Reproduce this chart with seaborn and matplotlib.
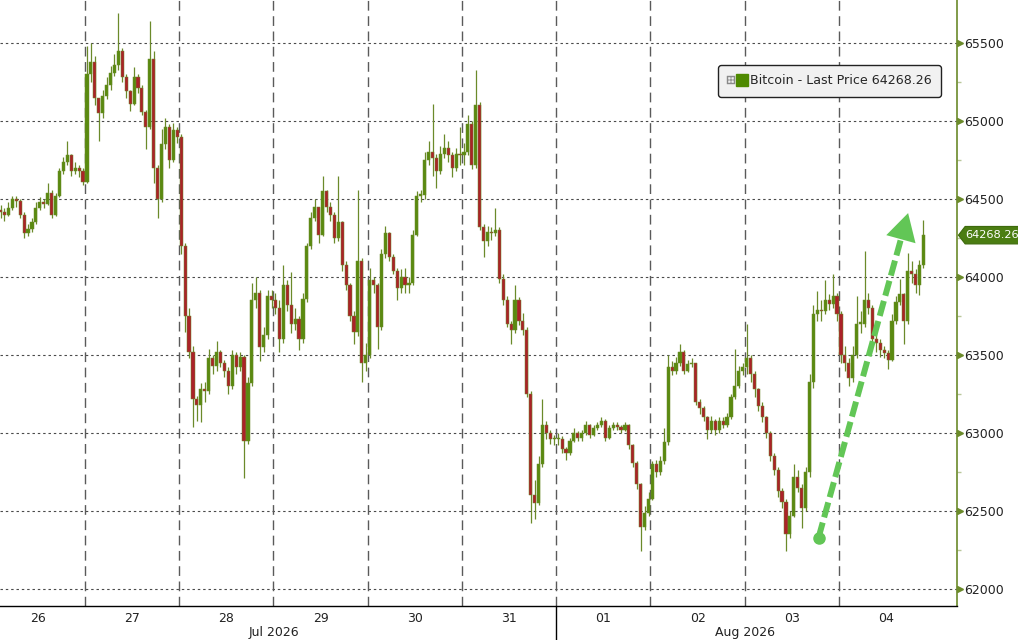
import numpy as np
import pandas as pd
import matplotlib
matplotlib.use("Agg")
import matplotlib.pyplot as plt
import matplotlib.transforms as mtransforms
from matplotlib.lines import Line2D
from matplotlib.patches import Polygon
from matplotlib.legend_handler import HandlerTuple
import seaborn as sns

sns.set_style("white")
plt.rcParams['font.family'] = ['DejaVu Sans']

# hourly candles, Bitcoin last price (open = previous close)
first_open = 64430
start_time = "2026-07-26 02:00"

close_26 = [64420, 64400, 64440, 64500, 64490, 64400, 64280, 64310, 64350, 64440, 64480,
            64470, 64540, 64400, 64520, 64680, 64740, 64780, 64680, 64700, 64680, 64610]
high_26 = [64460, 64440, 64480, 64520, 64520, 64500, 64420, 64340, 64380, 64480, 64510,
           64500, 64600, 64560, 64540, 64700, 64770, 64870, 64790, 64740, 64720, 64700]
low_26 = [64380, 64360, 64390, 64430, 64450, 64380, 64250, 64260, 64290, 64340, 64430,
          64440, 64460, 64380, 64390, 64510, 64660, 64720, 64650, 64660, 64640, 64590]

close_27 = [65300, 65380, 65150, 65050, 65160, 65230, 65310, 65360, 65450, 65280, 65190, 65110,
            65280, 65210, 65060, 64960, 65400, 64700, 64500, 64850, 64960, 64750, 64940, 64900]
high_27 = [65480, 65500, 65420, 65150, 65200, 65280, 65350, 65430, 65690, 65470, 65300, 65200,
           65345, 65300, 65230, 65070, 65640, 65450, 64720, 64950, 65020, 64980, 64990, 64960]
low_27 = [64600, 65250, 65100, 64870, 65020, 65140, 65200, 65290, 65330, 65250, 65150, 65065,
          65100, 65180, 65040, 64820, 64950, 64600, 64380, 64480, 64820, 64700, 64740, 64860]

close_28 = [64200, 63750, 63520, 63220, 63180, 63280, 63270, 63480, 63430, 63520, 63450, 63400,
            63300, 63500, 63420, 63490, 62950, 63320, 63850, 63900, 63550, 63630, 63880, 63850]
high_28 = [64920, 64220, 63800, 63560, 63240, 63320, 63330, 63540, 63500, 63590, 63530, 63470,
           63420, 63530, 63520, 63520, 63500, 63360, 63960, 64000, 63920, 63680, 63920, 63920]
low_28 = [64150, 63650, 63480, 63040, 63080, 63070, 63200, 63250, 63380, 63400, 63420, 63360,
          63250, 63280, 63380, 63400, 62710, 62930, 63300, 63800, 63460, 63520, 63600, 63800]

close_29 = [63800, 63600, 63950, 63820, 63700, 63730, 63600, 63860, 64200, 64380, 64450, 64270,
            64550, 64450, 64400, 64250, 64350, 64080, 63950, 63750, 63650, 64100, 63450, 63500]
high_29 = [63900, 63850, 64080, 63980, 64030, 63800, 63750, 63900, 64220, 64420, 64500, 64450,
           64650, 64560, 64480, 64420, 64650, 64360, 64100, 63960, 63780, 64560, 64120, 63580]
low_29 = [63760, 63520, 63580, 63780, 63640, 63660, 63530, 63580, 63840, 64180, 64360, 64220,
          64260, 64420, 64360, 64220, 64230, 64040, 63920, 63720, 63570, 63620, 63330, 63400]

close_30 = [63980, 63950, 63680, 64150, 64280, 64130, 64040, 63930, 64000, 63950, 63960, 64270,
            64520, 64525, 64750, 64800, 64760, 64680, 64790, 64830, 64780, 64700, 64790, 64780]
high_30 = [64060, 64000, 63960, 64180, 64330, 64290, 64150, 64060, 64050, 64060, 64000, 64300,
           64550, 64560, 64800, 64870, 65110, 64790, 64840, 64920, 64870, 64800, 64830, 64960]
low_30 = [63480, 63900, 63540, 63660, 64120, 64100, 64020, 63850, 63900, 63900, 63900, 63950,
          64260, 64480, 64500, 64720, 64650, 64570, 64660, 64760, 64740, 64640, 64680, 64720]

close_31 = [64800, 64980, 64720, 65100, 64320, 64230, 64290, 64280, 64300, 63990, 63850, 63700,
            63660, 63850, 63720, 63660, 63250, 62600, 62550, 62800, 63050, 63000, 62960, 62960]
high_31 = [64860, 65040, 65000, 65330, 65120, 64340, 64330, 64320, 64440, 64320, 64020, 63880,
           63720, 63950, 63870, 63770, 63680, 63270, 62700, 62850, 63220, 63080, 63020, 62990]
low_31 = [64720, 64780, 64690, 64700, 64300, 64130, 64200, 64240, 64260, 63960, 63820, 63680,
          63570, 63640, 63690, 63630, 63230, 62420, 62450, 62540, 62780, 62960, 62930, 62920]

close_01 = [62960, 62900, 62870, 62950, 63000, 62970, 63000, 63050, 62990, 63030, 63050, 63080,
            62970, 63030, 63050, 63040, 63020, 63050, 62920, 62810, 62670, 62400, 62490, 62580]
high_01 = [63000, 62980, 62910, 62970, 63030, 63010, 63020, 63080, 63060, 63050, 63070, 63100,
           63090, 63050, 63070, 63070, 63050, 63070, 63060, 62930, 62820, 62680, 62530, 62620]
low_01 = [62920, 62870, 62830, 62860, 62940, 62950, 62950, 62990, 62970, 62980, 63020, 63040,
          62950, 62960, 63020, 63020, 63000, 63010, 62900, 62780, 62640, 62245, 62380, 62470]

close_02 = [62800, 62750, 62820, 62940, 63420, 63400, 63450, 63520, 63400, 63440, 63450, 63200,
            63160, 63100, 63020, 63080, 63020, 63080, 63050, 63100, 63230, 63300, 63400, 63420]
high_02 = [62820, 62830, 62850, 63030, 63500, 63460, 63490, 63570, 63530, 63470, 63480, 63450,
           63220, 63170, 63110, 63110, 63090, 63100, 63100, 63130, 63250, 63540, 63430, 63450]
low_02 = [62570, 62720, 62730, 62800, 62920, 63370, 63380, 63430, 63380, 63390, 63420, 63180,
          63120, 63080, 62960, 63000, 62990, 63000, 63030, 63040, 63090, 63220, 63290, 63370]

close_03 = [63480, 63380, 63280, 63170, 63100, 63000, 62850, 62760, 62630, 62560, 62350, 62470,
            62720, 62650, 62520, 62750, 63330, 63760, 63790, 63780, 63850, 63830, 63880, 63760]
high_03 = [63700, 63500, 63400, 63290, 63200, 63110, 63010, 62870, 62780, 62650, 62580, 62500,
           62800, 62760, 62670, 62780, 63380, 63820, 63910, 63850, 63980, 63890, 64020, 63900]
low_03 = [63380, 63330, 63230, 63140, 63070, 62970, 62820, 62730, 62590, 62520, 62245, 62330,
          62460, 62620, 62390, 62500, 62720, 63290, 63720, 63720, 63760, 63790, 63800, 63720]

close_04 = [63500, 63450, 63350, 63500, 63700, 63700, 63850, 63800, 63600, 63580, 63530,
            63510, 63470, 63720, 63840, 63890, 63720, 64040, 64020, 63950, 64080, 64268.26]
high_04 = [63780, 63560, 63480, 63560, 63880, 63780, 64170, 63900, 63820, 63640, 63600,
           63560, 63530, 63760, 63880, 63985, 63900, 64157, 64100, 64050, 64110, 64365]
low_04 = [63450, 63400, 63300, 63330, 63480, 63640, 63680, 63760, 63580, 63520, 63490,
          63480, 63409, 63460, 63700, 63820, 63569, 63700, 63960, 63900, 63887, 64060]

day_labels = ['26', '27', '28', '29', '30', '31', '01', '02', '03', '04']
month_labels = ['Jul 2026', 'Aug 2026']
month_first_day = [0, 6]          # index into day_labels
y_ticks = [62000, 62500, 63000, 63500, 64000, 64500, 65000, 65500]
series_name = "Bitcoin - Last Price"

# hand-drawn arrow (hours since Jul 26 00:00, price)
arrow_start = (210.8, 62330)
arrow_tip = (233.6, 64410)

GREEN = "#5a8a10"
RED = "#ab2229"
OLIVE = "#6b8a2a"
LGREEN = "#62c656"

closes = (close_26 + close_27 + close_28 + close_29 + close_30 + close_31
          + close_01 + close_02 + close_03 + close_04)
highs = (high_26 + high_27 + high_28 + high_29 + high_30 + high_31
         + high_01 + high_02 + high_03 + high_04)
lows = (low_26 + low_27 + low_28 + low_29 + low_30 + low_31
        + low_01 + low_02 + low_03 + low_04)

times = pd.date_range(start_time, periods=len(closes), freq="h")
df = pd.DataFrame({"time": times, "close": closes, "high": highs, "low": lows})
df["t"] = (df["time"] - pd.Timestamp("2026-07-26")) / pd.Timedelta(hours=1) + 0.5
df["open"] = df["close"].shift(1).fillna(first_open)
df["high"] = df[["high", "open", "close"]].max(axis=1)
df["low"] = df[["low", "open", "close"]].min(axis=1)
df["up"] = df["close"] >= df["open"]
last = df["close"].iloc[-1]

fig = plt.figure(figsize=(10.18, 6.4), dpi=100)
ax = fig.add_axes([0, 34 / 640, 957 / 1018, 606 / 640])

# candles
body_col = np.where(df["up"], GREEN, RED)
ax.vlines(df["t"], df["low"], df["high"], colors=OLIVE, linewidth=0.9, zorder=3)
ax.bar(df["t"], (df["close"] - df["open"]).abs().clip(lower=10),
       bottom=np.minimum(df["open"], df["close"]), width=0.8,
       color=body_col, edgecolor=OLIVE, linewidth=0.35, zorder=4)

# axes limits
ax.set_xlim(2.36, 246.05)
ax.set_ylim(61891, 65776)

# grid
for yv in y_ticks:
    ax.axhline(yv, color="#4a4a4a", lw=0.8, ls=(0, (2.2, 2.6)), zorder=1)
for k in range(1, len(day_labels)):
    ax.axvline(24 * k, color="#5a5a5a", lw=1.0, ls=(0, (7, 4)), zorder=1)

# x axis: day labels and months
ax.set_xticks([24 * k + 12 for k in range(len(day_labels))])
ax.set_xticklabels(day_labels)
ax.tick_params(axis="x", length=0, pad=4, labelsize=9, labelcolor="#222222")
trans = mtransforms.blended_transform_factory(ax.transData, ax.transAxes)
bounds = [24 * d for d in month_first_day] + [24 * len(day_labels)]
for i, m in enumerate(month_labels):
    ax.text((bounds[i] + bounds[i + 1]) / 2, -0.043, m, transform=trans,
            ha="center", va="center", fontsize=9, color="#222222")
ax.plot([bounds[1], bounds[1]], [0, -0.06], transform=trans, color="black",
        lw=1, clip_on=False)

# y axis on the right
ax.yaxis.tick_right()
ax.set_yticks(y_ticks)
ax.set_yticklabels([str(v) for v in y_ticks])
ax.set_yticks([v + 250 for v in y_ticks[:-1]], minor=True)
ax.tick_params(axis="y", which="major", length=0, pad=5, labelsize=9,
               labelcolor="#222222")
ax.tick_params(axis="y", which="minor", length=3, color="#b9c79a", width=1)
ytrans = mtransforms.blended_transform_factory(ax.transAxes, ax.transData)
ax.plot([1.0035] * len(y_ticks), y_ticks, ls="none", marker=">", ms=4.5,
        color=OLIVE, transform=ytrans, clip_on=False)

for s in ["left", "top"]:
    ax.spines[s].set_visible(False)
ax.spines["right"].set_color(OLIVE)
ax.spines["right"].set_linewidth(1.2)
ax.spines["bottom"].set_color("black")
ax.spines["bottom"].set_linewidth(1.0)

# last price tag
h = 56
tag = Polygon([(1.0015, last), (1.0085, last + h), (1.08, last + h),
               (1.08, last - h), (1.0085, last - h)], closed=True,
              facecolor="#4b7d12", edgecolor="#3d6a0c", lw=0.8,
              transform=ytrans, clip_on=False, zorder=5)
ax.add_patch(tag)
ax.text(1.0088, last, f"{last:.2f}", transform=ytrans, color="white",
        fontsize=8.2, ha="left", va="center", zorder=6, clip_on=False)

# legend
icon = Line2D([], [], ls="none", marker=r"$\boxplus$", ms=5.5, color="#8a8a8a",
              markeredgewidth=0.3)
square = Line2D([], [], ls="none", marker="s", ms=9, color="#4e8a00")
leg = ax.legend([(icon, square)], [f"{series_name} {last:.2f}"],
                handler_map={tuple: HandlerTuple(ndivide=None, pad=0.3)},
                loc="upper right", bbox_to_anchor=(941 / 957, 1 - 65 / 606),
                borderaxespad=0, fontsize=9.1, handlelength=1.45, handletextpad=0.3,
                borderpad=0.75, frameon=True, fancybox=True, framealpha=1,
                facecolor="#f1f1f1", edgecolor="#222222")
leg.get_frame().set_linewidth(1.0)

# dashed arrow
base = (arrow_tip[0] - 0.075 * (arrow_tip[0] - arrow_start[0]),
        arrow_tip[1] - 0.075 * (arrow_tip[1] - arrow_start[1]))
ax.plot([arrow_start[0], base[0]], [arrow_start[1], base[1]], color=LGREEN,
        lw=4.3, ls=(0, (2.6, 0.9)), solid_capstyle="butt", zorder=6)
ax.plot([arrow_start[0]], [arrow_start[1]], marker="o", ms=8, color=LGREEN, zorder=7)
ax.annotate("", xy=arrow_tip, xytext=base,
            arrowprops=dict(arrowstyle="-|>,head_length=0.75,head_width=0.42",
                            mutation_scale=26, color=LGREEN, lw=0,
                            shrinkA=0, shrinkB=0), zorder=7)

fig.savefig("out.png", dpi=100, facecolor="white")
